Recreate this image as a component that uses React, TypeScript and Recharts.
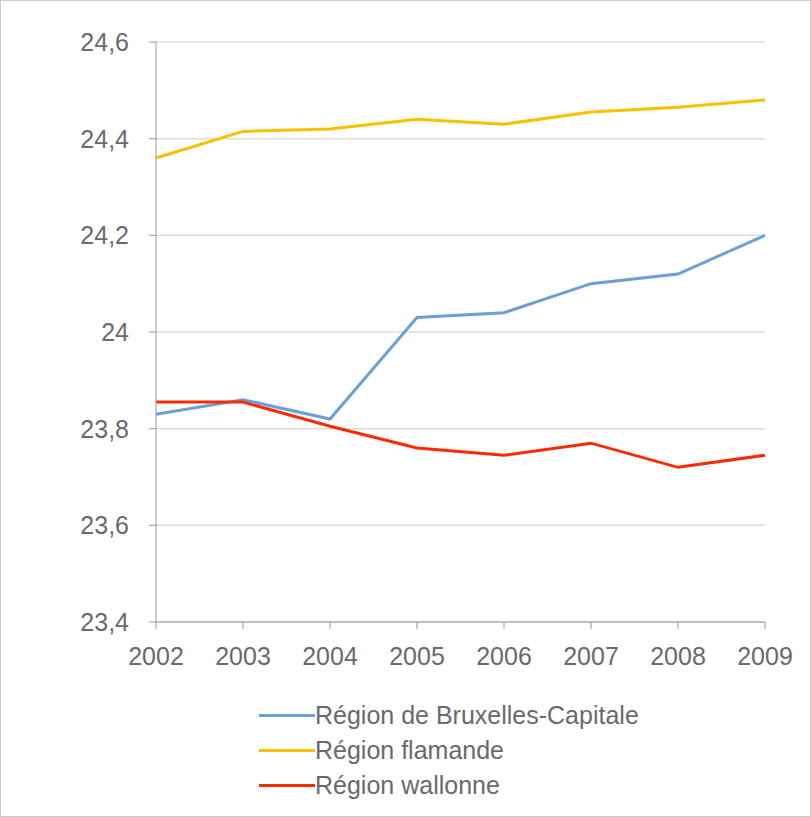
import React from "react";
import { LineChart, Line, XAxis, YAxis, CartesianGrid } from "recharts";

const years = ["2002", "2003", "2004", "2005", "2006", "2007", "2008", "2009"];
const bruxelles = [23.83, 23.86, 23.82, 24.03, 24.04, 24.1, 24.12, 24.2];
const flamande = [24.36, 24.415, 24.42, 24.44, 24.43, 24.455, 24.465, 24.48];
const wallonne = [23.855, 23.855, 23.805, 23.76, 23.745, 23.77, 23.72, 23.745];
const yTicks = [23.4, 23.6, 23.8, 24, 24.2, 24.4, 24.6];

const series = [
  { key: "bruxelles", name: "Région de Bruxelles-Capitale", color: "#6a9fd8" },
  { key: "flamande", name: "Région flamande", color: "#f7c100" },
  { key: "wallonne", name: "Région wallonne", color: "#fa2a00" },
];

const data = years.map((y, i) => ({
  year: y,
  bruxelles: bruxelles[i],
  flamande: flamande[i],
  wallonne: wallonne[i],
}));

const fmt = (v: number) => String(v).replace(".", ",");
const font = "Liberation Sans, Arial, sans-serif";
const tickStyle = { fill: "#6a6a6a", fontSize: 25, fontFamily: font };

export default function App() {
  return (
    <div style={{ position: "absolute", left: 0, top: 0, width: 811, height: 817, background: "#fff", boxSizing: "border-box", border: "1px solid #ccc", overflow: "hidden" }}>
      <LineChart width={811} height={817} data={data} margin={{ top: 41, right: 47, left: 0, bottom: 166 }}>
        <CartesianGrid vertical={false} stroke="#dcdcdc" strokeWidth={1.5} />
        <XAxis dataKey="year" tick={tickStyle} stroke="#999" tickSize={7} tickMargin={18} interval={0} height={30} />
        <YAxis width={155} domain={[23.4, 24.6]} ticks={yTicks} tickFormatter={fmt} tick={tickStyle} stroke="#999" tickSize={7} tickMargin={20} />
        {series.map((s) => (
          <Line key={s.key} dataKey={s.key} name={s.name} stroke={s.color} strokeWidth={3} dot={false} isAnimationActive={false} />
        ))}
      </LineChart>
      <div style={{ position: "absolute", left: 258, top: 697, fontFamily: font, fontSize: 25, color: "#6a6a6a" }}>
        {series.map((s) => (
          <div key={s.key} style={{ display: "flex", alignItems: "center", height: 35 }}>
            <span style={{ display: "inline-block", width: 56, height: 3, background: s.color }} />
            <span>{s.name}</span>
          </div>
        ))}
      </div>
    </div>
  );
}
